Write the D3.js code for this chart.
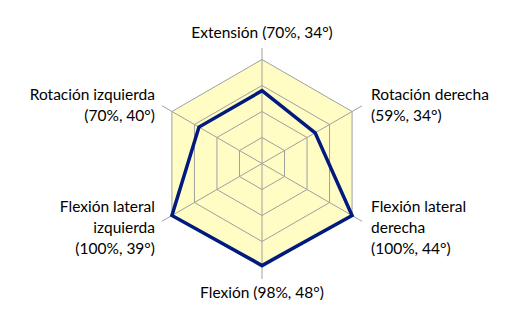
<!DOCTYPE html>
<html>
<head>
<meta charset="utf-8">
<script src="https://cdn.jsdelivr.net/npm/d3@7"></script>
<style>
  html, body { margin: 0; padding: 0; background: #fff; }
  svg text { font-family: Lato, "Open Sans", sans-serif; font-size: 15.5px; fill: #000; }
</style>
</head>
<body>
<div id="chart"></div>
<script>
// Axes clockwise from the top
const AXES = ['Extensión', 'Rotación derecha', 'Flexión lateral derecha', 'Flexión', 'Flexión lateral izquierda', 'Rotación izquierda'];
const PERCENT = [70, 59, 100, 98, 100, 70];
const DEGREES = [34, 34, 44, 48, 39, 40];
// how each label breaks into lines
const LABEL_LINES = [
    ['Extensión'],
    ['Rotación derecha'],
    ['Flexión lateral', 'derecha'],
    ['Flexión'],
    ['Flexión lateral', 'izquierda'],
    ['Rotación izquierda']
];
const LEVELS = [25, 50, 75, 100];

const width = 519, height = 322;
const cx = 262, cy = 163.5, R = 104;

const svg = d3.select('#chart').append('svg')
    .attr('width', width)
    .attr('height', height);

const r = d3.scaleLinear().domain([0, 100]).range([0, R]);
const angle = d3.scalePoint().domain(AXES).range([0, 2 * Math.PI * 5 / 6]);

const pt = (axis, v) => {
    const a = angle(axis);
    return [cx + r(v) * Math.sin(a), cy - r(v) * Math.cos(a)];
};

const g = svg.append('g');

// background hexagon
g.append('polygon')
    .attr('points', AXES.map(a => pt(a, 100)).join(' '))
    .attr('fill', '#fffcc4');

// grid rings
g.selectAll('polygon.ring')
    .data(LEVELS)
    .join('polygon')
    .attr('class', 'ring')
    .attr('points', lv => AXES.map(a => pt(a, lv)).join(' '))
    .attr('fill', 'none')
    .attr('stroke', '#a0a0a0')
    .attr('stroke-width', 1);

// spokes
g.selectAll('line.spoke')
    .data(AXES)
    .join('line')
    .attr('class', 'spoke')
    .attr('x1', cx).attr('y1', cy)
    .attr('x2', a => pt(a, 111)[0])
    .attr('y2', a => pt(a, 111)[1])
    .attr('stroke', '#a0a0a0')
    .attr('stroke-width', 1);

// data polygon
g.append('polygon')
    .attr('points', AXES.map((a, i) => pt(a, PERCENT[i])).join(' '))
    .attr('fill', 'none')
    .attr('stroke', '#001a80')
    .attr('stroke-width', 3.5)
    .attr('stroke-linejoin', 'miter');

// labels
const lineH = 21;
AXES.forEach((a, i) => {
    const lines = LABEL_LINES[i].slice();
    const tail = `(${PERCENT[i]}%, ${DEGREES[i]}°)`;
    if (lines.length === 1 && (i === 0 || i === 3)) lines[0] += ' ' + tail;
    else lines.push(tail);

    const [vx, vy] = pt(a, 100);
    let x, y0, anchor;
    if (i === 0) { x = cx; y0 = vy - 22; anchor = 'middle'; }
    else if (i === 3) { x = cx; y0 = vy + 30; anchor = 'middle'; }
    else {
        const right = i < 3;
        x = right ? vx + 19 : vx - 17;
        anchor = right ? 'start' : 'end';
        const upper = (i === 1 || i === 5);
        y0 = upper ? vy + 9 - (lines.length - 1) * lineH : vy - 4;
    }
    const t = svg.append('text')
        .attr('text-anchor', anchor);
    lines.forEach((s, k) => {
        t.append('tspan').attr('x', x).attr('y', y0 + k * lineH).text(s);
    });
});
</script>
</body>
</html>
